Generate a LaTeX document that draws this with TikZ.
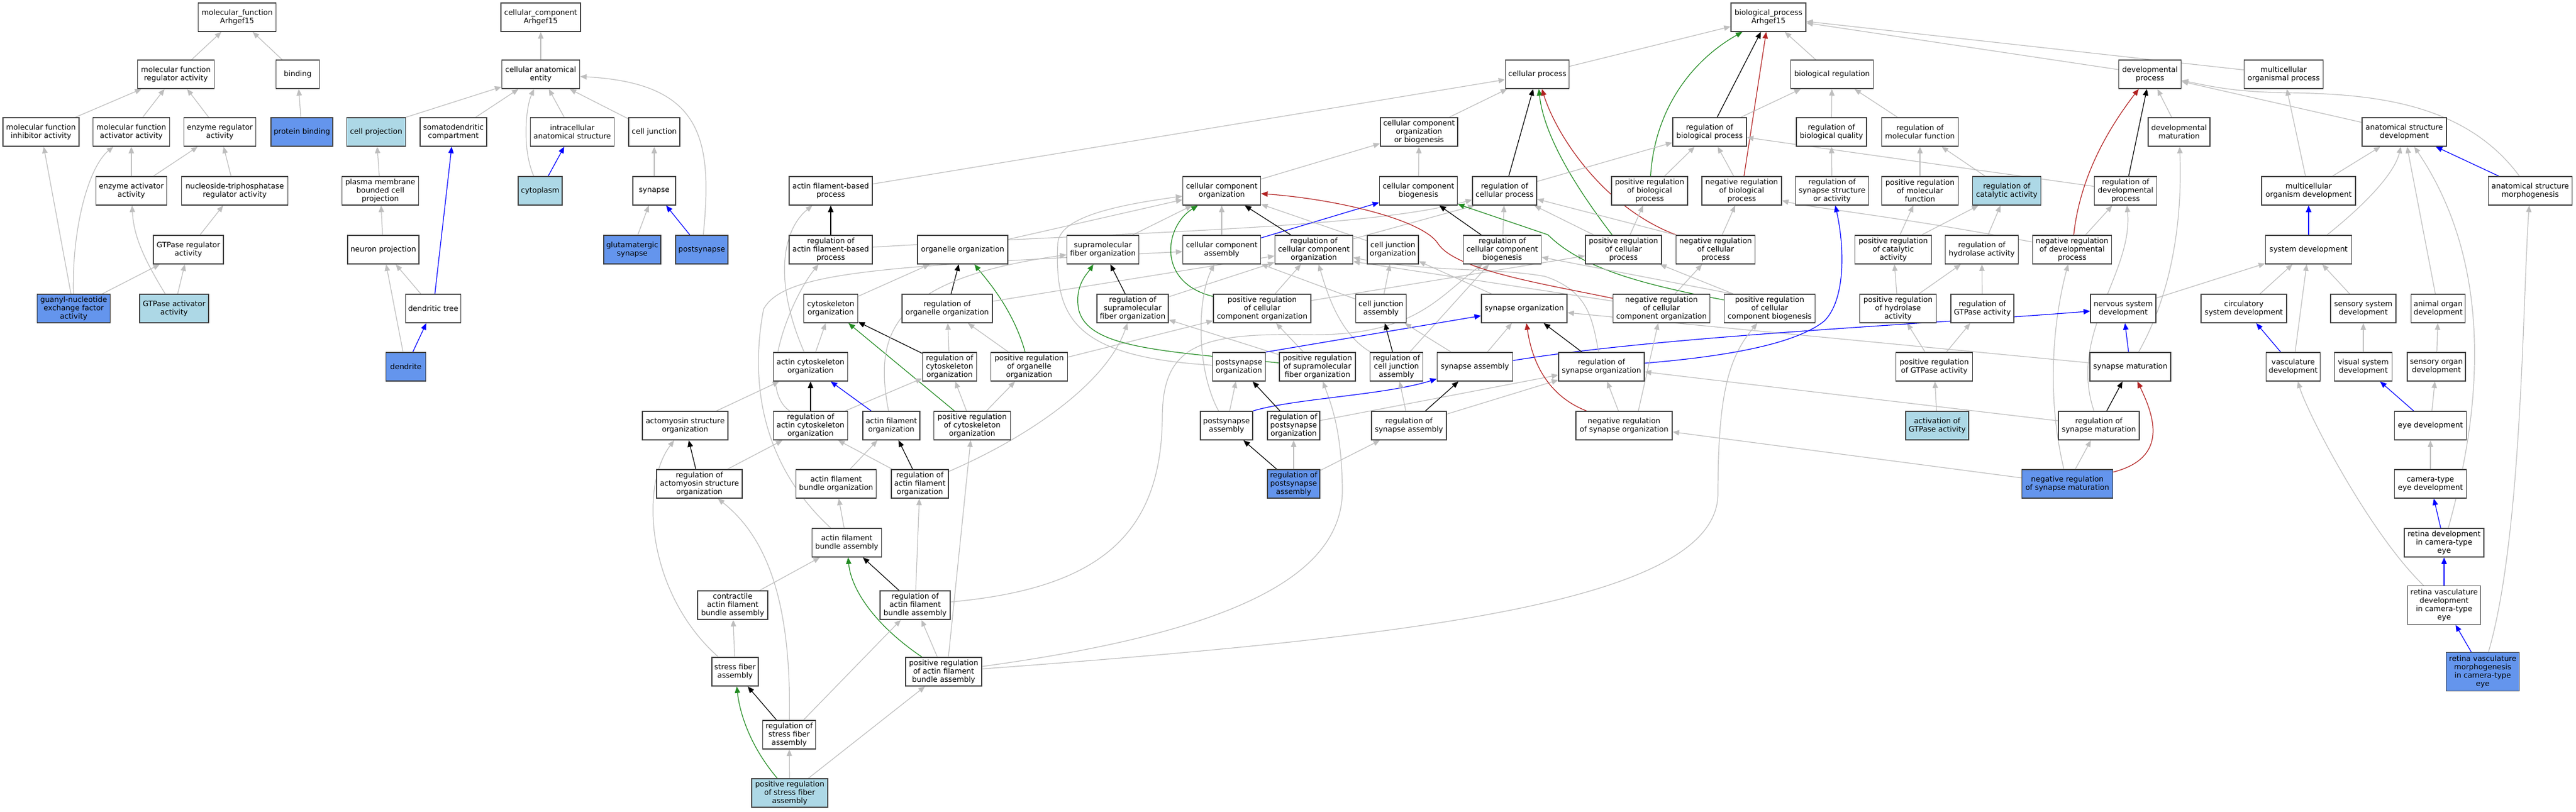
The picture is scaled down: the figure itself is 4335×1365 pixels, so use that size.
\documentclass[tikz,border=0pt]{standalone}
\usepackage{fontspec}
\setmainfont{DejaVu Sans}
\usepackage{xcolor}
\usepackage{tikz}
\usetikzlibrary{arrows.meta,backgrounds}
\definecolor{cbblue}{HTML}{6495ED}
\definecolor{ltblue}{HTML}{ADD8E6}
\definecolor{edgegray}{HTML}{BEBEBE}
\definecolor{fgreen}{HTML}{228B22}
\definecolor{fbrick}{HTML}{B22222}
\tikzset{
  term/.style={draw=black!75, line width=1.5pt, fill=white, align=center, inner sep=2pt,
    minimum height=48pt, font=\fontsize{12.5}{14}\selectfont},
  hit/.style={term, fill=cbblue},
  hint/.style={term, fill=ltblue},
  link/.style={line width=1.2pt, -{Triangle[length=11pt,width=9pt]}},
  isa/.style={link, edgegray},
  reg/.style={link, black},
  posreg/.style={link, fgreen},
  negreg/.style={link, fbrick},
  partof/.style={link, blue},
}
\begin{document}
\begin{tikzpicture}[x=1pt,y=-1pt]
\useasboundingbox (0,0) rectangle (4335,1365);
\node[term, minimum width=131] (mfroot) at (399,29) {molecular\_function\\Arhgef15};
\node[term, minimum width=134] (ccroot) at (910,29) {cellular\_component\\Arhgef15};
\node[term, minimum width=126] (bproot) at (2976,29) {biological\_process\\Arhgef15};
\node[term, minimum width=129] (mfreg) at (296,125) {molecular function\\regulator activity};
\node[term, minimum width=73] (binding) at (501,125) {binding};
\node[term, minimum width=131] (cae) at (910,125) {cellular anatomical\\entity};
\node[term, minimum width=107] (cellproc) at (2587,125) {cellular process};
\node[term, minimum width=139] (bioreg) at (3083,125) {biological regulation};
\node[term, minimum width=105] (devproc) at (3618,125) {developmental\\process};
\node[term, minimum width=133] (multiproc) at (3843,125) {multicellular\\organismal process};
\node[term, minimum width=128] (mfinh) at (69,222) {molecular function\\inhibitor activity};
\node[term, minimum width=129] (mfact) at (221,222) {molecular function\\activator activity};
\node[term, minimum width=121] (enzreg) at (370,222) {enzyme regulator\\activity};
\node[hit, minimum width=104] (protbind) at (508,222) {protein binding};
\node[hint, minimum width=99] (cellproj) at (633,222) {cell projection};
\node[term, minimum width=112] (soma) at (763,222) {somatodendritic\\compartment};
\node[term, minimum width=141] (intra) at (963,222) {intracellular\\anatomical structure};
\node[term, minimum width=86] (celljunc) at (1101,222) {cell junction};
\node[term, minimum width=130] (ccorgbio) at (2388,222) {cellular component\\organization\\or biogenesis};
\node[term, minimum width=124] (regbp) at (2877,222) {regulation of\\biological process};
\node[term, minimum width=118] (regbq) at (3082,222) {regulation of\\biological quality};
\node[term, minimum width=129] (regmf) at (3231,222) {regulation of\\molecular function};
\node[term, minimum width=104] (devmat) at (3667,222) {developmental\\maturation};
\node[term, minimum width=142] (asd) at (4046,222) {anatomical structure\\development};
\node[term, minimum width=119] (enzact) at (221,321) {enzyme activator\\activity};
\node[term, minimum width=179] (ntpreg) at (395,321) {nucleoside-triphosphatase\\regulator activity};
\node[term, minimum width=129] (plasma) at (640,321) {plasma membrane\\bounded cell\\projection};
\node[hint, minimum width=74] (cytoplasm) at (909,321) {cytoplasm};
\node[term, minimum width=72] (synapse) at (1101,321) {synapse};
\node[term, minimum width=140] (afbp) at (1398,321) {actin filament-based\\process};
\node[term, minimum width=131] (ccorg) at (2056,321) {cellular component\\organization};
\node[term, minimum width=131] (ccbio) at (2387,321) {cellular component\\biogenesis};
\node[term, minimum width=108] (regcp) at (2532,321) {regulation of\\cellular process};
\node[term, minimum width=128] (posbp) at (2776,321) {positive regulation\\of biological\\process};
\node[term, minimum width=134] (negbp) at (2931,321) {negative regulation\\of biological\\process};
\node[term, minimum width=123] (regsyn) at (3083,321) {regulation of\\synapse structure\\or activity};
\node[term, minimum width=129] (posmf) at (3231,321) {positive regulation\\of molecular\\function};
\node[hint, minimum width=115] (regcat) at (3377,321) {regulation of\\catalytic activity};
\node[term, minimum width=105] (regdev) at (3577,321) {regulation of\\developmental\\process};
\node[term, minimum width=158] (mod) at (3885,321) {multicellular\\organism development};
\node[term, minimum width=141] (asm) at (4258,321) {anatomical structure\\morphogenesis};
\node[term, minimum width=118] (gtpreg) at (317,420) {GTPase regulator\\activity};
\node[term, minimum width=120] (neuproj) at (645,420) {neuron projection};
\node[hit, minimum width=96] (glut) at (1064,420) {glutamatergic\\synapse};
\node[hit, minimum width=88] (postsyn) at (1181,420) {postsynapse};
\node[term, minimum width=140] (regafbp) at (1398,420) {regulation of\\actin filament-based\\process};
\node[term, minimum width=152] (orgorg) at (1620,420) {organelle organization};
\node[term, minimum width=121] (supra) at (1856,420) {supramolecular\\fiber organization};
\node[term, minimum width=131] (ccass) at (2056,420) {cellular component\\assembly};
\node[term, minimum width=131] (regccorg) at (2211,420) {regulation of\\cellular component\\organization};
\node[term, minimum width=86] (cjorg) at (2344,420) {cell junction\\organization};
\node[term, minimum width=131] (regccbio) at (2528,420) {regulation of\\cellular component\\biogenesis};
\node[term, minimum width=128] (poscp) at (2732,420) {positive regulation\\of cellular\\process};
\node[term, minimum width=133] (negcp) at (2887,420) {negative regulation\\of cellular\\process};
\node[term, minimum width=129] (poscat) at (3186,420) {positive regulation\\of catalytic\\activity};
\node[term, minimum width=123] (reghyd) at (3335,420) {regulation of\\hydrolase activity};
\node[term, minimum width=133] (negdev) at (3487,420) {negative regulation\\of developmental\\process};
\node[term, minimum width=145] (sysdev) at (3885,420) {system development};
\node[hit, minimum width=123] (guanyl) at (124,519) {guanyl-nucleotide\\exchange factor\\activity};
\node[hint, minimum width=116] (gtpact) at (293,519) {GTPase activator\\activity};
\node[term, minimum width=93] (dendtree) at (729,519) {dendritic tree};
\node[term, minimum width=91] (cytorg) at (1398,519) {cytoskeleton\\organization};
\node[term, minimum width=152] (regorg) at (1594,519) {regulation of\\organelle organization};
\node[term, minimum width=120] (regsupra) at (1906,519) {regulation of\\supramolecular\\fiber organization};
\node[term, minimum width=164] (posccorg) at (2124,519) {positive regulation\\of cellular\\component organization};
\node[term, minimum width=85] (cjass) at (2324,519) {cell junction\\assembly};
\node[term, minimum width=144] (synorg) at (2565,519) {synapse organization};
\node[term, minimum width=163] (negccorg) at (2796,519) {negative regulation\\of cellular\\component organization};
\node[term, minimum width=153] (posccbio) at (2978,519) {positive regulation\\of cellular\\component biogenesis};
\node[term, minimum width=129] (poshyd) at (3194,519) {positive regulation\\of hydrolase\\activity};
\node[term, minimum width=106] (reggtp) at (3336,519) {regulation of\\GTPase activity};
\node[term, minimum width=110] (nsd) at (3573,519) {nervous system\\development};
\node[term, minimum width=144] (csd) at (3776,519) {circulatory\\system development};
\node[term, minimum width=110] (ssd) at (3977,519) {sensory system\\development};
\node[term, minimum width=91] (aod) at (4103,519) {animal organ\\development};
\node[hit, minimum width=67] (dendrite) at (683,617) {dendrite};
\node[term, minimum width=125] (actcyt) at (1364,617) {actin cytoskeleton\\organization};
\node[term, minimum width=91] (regcyt) at (1598,617) {regulation of\\cytoskeleton\\organization};
\node[term, minimum width=129] (posorg) at (1732,617) {positive regulation\\of organelle\\organization};
\node[term, minimum width=89] (postorg) at (2085,617) {postsynapse\\organization};
\node[term, minimum width=128] (possupra) at (2217,617) {positive regulation\\of supramolecular\\fiber organization};
\node[term, minimum width=89] (regcja) at (2350,617) {regulation of\\cell junction\\assembly};
\node[term, minimum width=127] (synass) at (2482,617) {synapse assembly};
\node[term, minimum width=144] (regsynorg) at (2695,617) {regulation of\\synapse organization};
\node[term, minimum width=129] (posgtp) at (3255,617) {positive regulation\\of GTPase activity};
\node[term, minimum width=136] (synmat) at (3585,617) {synapse maturation};
\node[term, minimum width=91] (vasc) at (3859,617) {vasculature\\development};
\node[term, minimum width=97] (vsd) at (3977,617) {visual system\\development};
\node[term, minimum width=98] (sod) at (4100,617) {sensory organ\\development};
\node[term, minimum width=144] (actomy) at (1153,716) {actomyosin structure\\organization};
\node[term, minimum width=125] (regactcyt) at (1364,716) {regulation of\\actin cytoskeleton\\organization};
\node[term, minimum width=96] (afo) at (1500,716) {actin filament\\organization};
\node[term, minimum width=129] (posregcyt) at (1636,716) {positive regulation\\of cytoskeleton\\organization};
\node[term, minimum width=88] (postass) at (2064,716) {postsynapse\\assembly};
\node[term, minimum width=88] (regpostorg) at (2177,716) {regulation of\\postsynapse\\organization};
\node[term, minimum width=126] (regsynass) at (2371,716) {regulation of\\synapse assembly};
\node[term, minimum width=162] (negsynorg) at (2733,716) {negative regulation\\of synapse organization};
\node[hint, minimum width=106] (actgtp) at (3260,716) {activation of\\GTPase activity};
\node[term, minimum width=136] (regsynmat) at (3532,716) {regulation of\\synapse maturation};
\node[term, minimum width=121] (eyedev) at (4090,716) {eye development};
\node[term, minimum width=144] (regactomy) at (1177,814) {regulation of\\actomyosin structure\\organization};
\node[term, minimum width=135] (afbo) at (1407,814) {actin filament\\bundle organization};
\node[term, minimum width=96] (regafo) at (1548,814) {regulation of\\actin filament\\organization};
\node[hit, minimum width=88] (regpostass) at (2177,814) {regulation of\\postsynapse\\assembly};
\node[hit, minimum width=153] (negsynmat) at (3479,814) {negative regulation\\of synapse maturation};
\node[term, minimum width=121] (camera) at (4090,814) {camera-type\\eye development};
\node[term, minimum width=117] (afba) at (1425,913) {actin filament\\bundle assembly};
\node[term, minimum width=134] (retdev) at (4113,913) {retina development\\in camera-type\\eye};
\node[term, minimum width=118] (contr) at (1233,1018) {contractile\\actin filament\\bundle assembly};
\node[term, minimum width=118] (regafba) at (1540,1018) {regulation of\\actin filament\\bundle assembly};
\node[term, minimum width=123, minimum height=65] (retvasc) at (4113,1018) {retina vasculature\\development\\in camera-type\\eye};
\node[term, minimum width=78] (sfa) at (1237,1130) {stress fiber\\assembly};
\node[term, minimum width=128] (posafba) at (1588,1130) {positive regulation\\of actin filament\\bundle assembly};
\node[hit, minimum width=123, minimum height=65] (retmorph) at (4178,1130) {retina vasculature\\morphogenesis\\in camera-type\\eye};
\node[term, minimum width=89] (regsfa) at (1328,1236) {regulation of\\stress fiber\\assembly};
\node[hint, minimum width=128] (posregsf) at (1329,1334) {positive regulation\\of stress fiber\\assembly};

\begin{scope}[on background layer]
\draw[isa] (mfreg) -- (mfroot);
\draw[isa] (binding) -- (mfroot);
\draw[isa] (mfinh) -- (mfreg);
\draw[isa] (mfact) -- (mfreg);
\draw[isa] (enzreg) -- (mfreg);
\draw[isa] (protbind) -- (binding);
\draw[isa] (guanyl) -- (mfinh);
\draw[isa] (guanyl) .. controls (121,380) and (150,280) .. (mfact);
\draw[isa] (enzact) -- (mfact);
\draw[isa] (enzact) -- (enzreg);
\draw[isa] (ntpreg) -- (enzreg);
\draw[isa] (gtpreg) -- (ntpreg);
\draw[isa] (guanyl) -- (gtpreg);
\draw[isa] (gtpact) -- (gtpreg);
\draw[isa] (gtpact) .. controls (245,440) and (225,400) .. (enzact);
\draw[isa] (cae) -- (ccroot);
\draw[isa] (cellproj.north east) -- (cae);
\draw[isa] (plasma) -- (cellproj);
\draw[isa] (neuproj) -- (plasma);
\draw[isa] (dendtree) -- (neuproj);
\draw[isa] (dendrite) -- (neuproj);
\draw[partof] (dendrite) -- (dendtree);
\draw[partof] (dendtree) -- (soma);
\draw[isa] (soma) -- (cae);
\draw[isa] (cytoplasm) .. controls (878,250) and (885,180) .. (cae);
\draw[partof] (cytoplasm) -- (intra);
\draw[isa] (intra) -- (cae);
\draw[isa] (celljunc) -- (cae);
\draw[isa] (postsyn) .. controls (1200,230) and (1180,140) .. (cae);
\draw[isa] (synapse) -- (celljunc);
\draw[isa] (glut) -- (synapse);
\draw[partof] (postsyn) -- (synapse);
\draw[isa] (cellproc) -- (bproot);
\draw[posreg] (posbp) .. controls (2785,180) and (2850,100) .. (bproot);
\draw[reg] (regbp) -- (bproot);
\draw[negreg] (negbp) -- (bproot);
\draw[isa] (bioreg) -- (bproot);
\draw[isa] (devproc) -- (bproot);
\draw[isa] (multiproc) -- (bproot);
\draw[isa] (regbp) -- (bioreg);
\draw[isa] (regbq) -- (bioreg);
\draw[isa] (regmf) -- (bioreg);
\draw[isa] (ccorgbio) -- (cellproc);
\draw[isa] (afbp) -- (cellproc);
\draw[reg] (regcp) -- (cellproc);
\draw[posreg] (poscp) .. controls (2640,300) and (2597,220) .. (cellproc);
\draw[negreg] (negcp) .. controls (2700,350) and (2620,230) .. (cellproc);
\draw[isa] (ccorg) -- (ccorgbio);
\draw[isa] (ccbio) -- (ccorgbio);
\draw[isa] (posbp) -- (regbp);
\draw[isa] (negbp) -- (regbp);
\draw[isa] (regcp) -- (regbp);
\draw[isa] (regdev) .. controls (3250,275) and (3000,240) .. (regbp);
\draw[isa] (negdev) .. controls (3200,365) and (3050,350) .. (negbp);
\draw[isa] (regsyn) -- (regbq);
\draw[isa] (posmf) -- (regmf);
\draw[isa] (regcat) -- (regmf);
\draw[isa] (poscat) -- (posmf);
\draw[isa] (poscat) -- (regcat);
\draw[isa] (reghyd) -- (regcat);
\draw[isa] (poshyd) -- (poscat);
\draw[isa] (poshyd) -- (reghyd);
\draw[isa] (reggtp) -- (reghyd);
\draw[isa] (posgtp) -- (poshyd);
\draw[isa] (posgtp) -- (reggtp);
\draw[isa] (actgtp) -- (posgtp);
\draw[reg] (regdev) -- (devproc);
\draw[negreg] (negdev) .. controls (3500,300) and (3545,220) .. (devproc);
\draw[isa] (negdev) -- (regdev);
\draw[isa] (devmat) -- (devproc);
\draw[isa] (asd) -- (devproc);
\draw[isa] (asm) .. controls (4150,175) and (4000,158) .. (3850,156) .. controls (3760,155) and (3720,145) .. (devproc);
\draw[isa] (mod) -- (multiproc);
\draw[isa] (mod) -- (asd);
\draw[partof] (asm) -- (asd);
\draw[partof] (sysdev) -- (mod);
\draw[isa] (sysdev) .. controls (3985,340) and (4030,290) .. (asd);
\draw[isa] (nsd) -- (sysdev);
\draw[isa] (csd) -- (sysdev);
\draw[isa] (ssd) -- (sysdev);
\draw[isa] (vasc) -- (sysdev);
\draw[partof] (vasc) -- (csd);
\draw[isa] (aod) -- (asd);
\draw[isa] (vsd) -- (ssd);
\draw[isa] (sod) -- (aod);
\draw[partof] (eyedev) -- (vsd);
\draw[isa] (eyedev) -- (sod);
\draw[isa] (camera) -- (eyedev);
\draw[partof] (retdev) -- (camera);
\draw[partof] (retvasc) -- (retdev);
\draw[partof] (retmorph) -- (retvasc);
\draw[isa] (retvasc) .. controls (3990,900) and (3885,700) .. (vasc);
\draw[isa] (retdev) .. controls (4190,640) and (4180,420) .. (asd);
\draw[isa] (retmorph) .. controls (4245,900) and (4245,500) .. (asm);
\draw[partof] (synmat) -- (nsd);
\draw[isa] (synmat) .. controls (3662,480) and (3672,350) .. (devmat);
\draw[reg] (regsynmat) -- (synmat);
\draw[isa] (regsynmat) .. controls (3480,560) and (3590,460) .. (regdev);
\draw[isa] (regsynmat) -- (regsynorg);
\draw[negreg] (negsynmat) .. controls (3650,770) and (3625,700) .. (synmat);
\draw[isa] (negsynmat) -- (regsynmat);
\draw[isa] (negsynmat) .. controls (3440,650) and (3460,520) .. (negdev);
\draw[isa] (negsynmat) -- (negsynorg);
\draw[isa] (synmat) -- (synorg);
\draw[partof] (synass) .. controls (2800,565) and (3250,545) .. (nsd);
\draw[reg] (regafbp) -- (afbp);
\draw[isa] (regafbp) .. controls (1900,390) and (2300,385) .. (regcp);
\draw[isa] (actcyt) .. controls (1300,470) and (1318,385) .. (afbp);
\draw[isa] (actcyt) -- (cytorg);
\draw[isa] (cytorg) -- (orgorg);
\draw[isa] (orgorg) -- (ccorg);
\draw[reg] (regorg) -- (orgorg);
\draw[posreg] (posorg) .. controls (1705,520) and (1660,470) .. (orgorg);
\draw[reg] (regcyt) -- (cytorg);
\draw[isa] (regcyt) -- (regorg);
\draw[posreg] (posregcyt) -- (cytorg);
\draw[isa] (posregcyt) -- (regcyt);
\draw[isa] (posregcyt) -- (posorg);
\draw[isa] (posorg) -- (regorg);
\draw[isa] (posorg) -- (posccorg);
\draw[isa] (regorg) -- (regccorg);
\draw[isa] (actomy) -- (actcyt);
\draw[reg] (regactcyt) -- (actcyt);
\draw[isa] (regactcyt) -- (regcyt);
\draw[isa] (regactcyt) .. controls (1270,650) and (1332,500) .. (regafbp);
\draw[partof] (afo) -- (actcyt);
\draw[isa] (afo) .. controls (1470,560) and (1500,470) .. (supra);
\draw[reg] (regactomy) -- (actomy);
\draw[isa] (regactomy) -- (regactcyt);
\draw[isa] (afbo) -- (afo);
\draw[reg] (regafo) -- (afo);
\draw[isa] (regafo) -- (regactcyt);
\draw[isa] (regafo) .. controls (1720,740) and (1860,650) .. (regsupra);
\draw[isa] (afba) -- (afbo);
\draw[isa] (afba) .. controls (1280,780) and (1262,640) .. (1285,520) .. controls (1320,455) and (1500,448) .. (ccass);
\draw[reg] (regafba) -- (afba);
\draw[isa] (regafba) -- (regafo);
\draw[isa] (regafba) .. controls (1850,990) and (1955,900) .. (1956,700) .. controls (1957,580) and (2020,560) .. (2200,563) .. controls (2380,566) and (2420,500) .. (regccbio);
\draw[isa] (contr) -- (afba);
\draw[isa] (sfa) -- (contr);
\draw[isa] (sfa) .. controls (1090,1000) and (1075,820) .. (actomy);
\draw[posreg] (posafba) .. controls (1470,1050) and (1432,990) .. (afba);
\draw[isa] (posafba) -- (regafba);
\draw[isa] ([xshift=8]posafba.north) -- (posregcyt);
\draw[isa] (posafba) .. controls (2100,1060) and (2262,960) .. (2259,820) .. controls (2257,720) and (2240,680) .. (possupra);
\draw[isa] (posafba) .. controls (2400,1070) and (2891,1010) .. (2891,830) .. controls (2891,660) and (2910,600) .. (posccbio);
\draw[reg] (regsfa) -- (sfa);
\draw[isa] (regsfa) .. controls (1332,1000) and (1285,900) .. (regactomy);
\draw[isa] (regsfa) -- (regafba);
\draw[posreg] (posregsf) .. controls (1262,1255) and (1245,1200) .. (sfa);
\draw[isa] (posregsf) -- (regsfa);
\draw[isa] (posregsf) -- (posafba);
\draw[isa] (supra) -- (ccorg);
\draw[reg] (regsupra) -- (supra);
\draw[isa] (regsupra) -- (regccorg);
\draw[posreg] (possupra) .. controls (1950,590) and (1830,585) .. (1815,520) .. controls (1808,480) and (1830,460) .. (supra);
\draw[isa] (possupra) -- (regsupra);
\draw[isa] (possupra) -- (posccorg);
\draw[isa] (ccass) -- (ccorg);
\draw[partof] (ccass) -- (ccbio);
\draw[reg] (regccorg) -- (ccorg);
\draw[isa] (regccorg) -- ([xshift=4]regcp.south west);
\draw[posreg] (posccorg) .. controls (1945,475) and (1960,380) .. (ccorg);
\draw[isa] (posccorg) -- (regccorg);
\draw[isa] (posccorg) -- (poscp);
\draw[isa] (cjorg) -- (ccorg);
\draw[isa] (cjass) -- (cjorg);
\draw[isa] (cjass) -- (ccass);
\draw[reg] (regcja) -- (cjass);
\draw[isa] (regcja) -- (regccbio);
\draw[isa] (regcja) .. controls (2250,560) and (2230,480) .. (regccorg);
\draw[reg] (regccbio) -- (ccbio);
\draw[isa] (regccbio) -- (regcp);
\draw[partof] (postorg.north east) -- (synorg);
\draw[isa] (postorg) .. controls (1800,600) and (1775,530) .. (1780,410) .. controls (1782,365) and (1880,345) .. (ccorg);
\draw[isa] (postass) -- (postorg);
\draw[partof] (postass.north east) .. controls (2180,670) and (2330,665) .. (synass);
\draw[isa] (postass) .. controls (2012,620) and (2015,500) .. (ccass);
\draw[reg] (regpostorg) -- (postorg);
\draw[isa] (regpostorg) -- (regsynorg);
\draw[reg] (regpostass) -- (postass);
\draw[isa] (regpostass) -- (regpostorg);
\draw[isa] (regpostass) -- (regsynass);
\draw[reg] (regsynass) -- (synass);
\draw[isa] (regsynass) -- (regcja);
\draw[isa] (regsynass) -- (regsynorg);
\draw[isa] (synass) -- (synorg);
\draw[isa] (synass) -- (cjass);
\draw[isa] (synorg) -- (cjorg);
\draw[reg] (regsynorg) -- (synorg);
\draw[isa] (regsynorg) .. controls (2680,540) and (2675,490) .. (2600,465) .. controls (2520,450) and (2400,458) .. (regccorg);
\draw[partof] (regsynorg) .. controls (2900,600) and (3020,580) .. (3070,540) .. controls (3105,505) and (3105,420) .. (regsyn);
\draw[negreg] (negsynorg) .. controls (2590,660) and (2575,585) .. (synorg);
\draw[isa] (negsynorg) -- (regsynorg);
\draw[isa] ([xshift=24]negsynorg.north) -- (negccorg);
\draw[negreg] (negccorg) .. controls (2600,478) and (2450,455) .. (2420,410) .. controls (2395,370) and (2250,335) .. (ccorg);
\draw[isa] (negccorg) -- ([yshift=-20]regccorg.east);
\draw[isa] (negccorg) -- (negcp);
\draw[posreg] (posccbio) .. controls (2760,478) and (2660,450) .. (2605,395) -- (ccbio);
\draw[isa] ([xshift=14]posccbio.north west) -- (regccbio);
\draw[isa] (posccbio) -- (poscp);
\draw[isa] (poscp) -- (regcp);
\draw[isa] (poscp) -- (posbp);
\draw[isa] (negcp.north west) -- (regcp);
\draw[isa] (negcp) -- (negbp);
\end{scope}
\end{tikzpicture}
\end{document}
